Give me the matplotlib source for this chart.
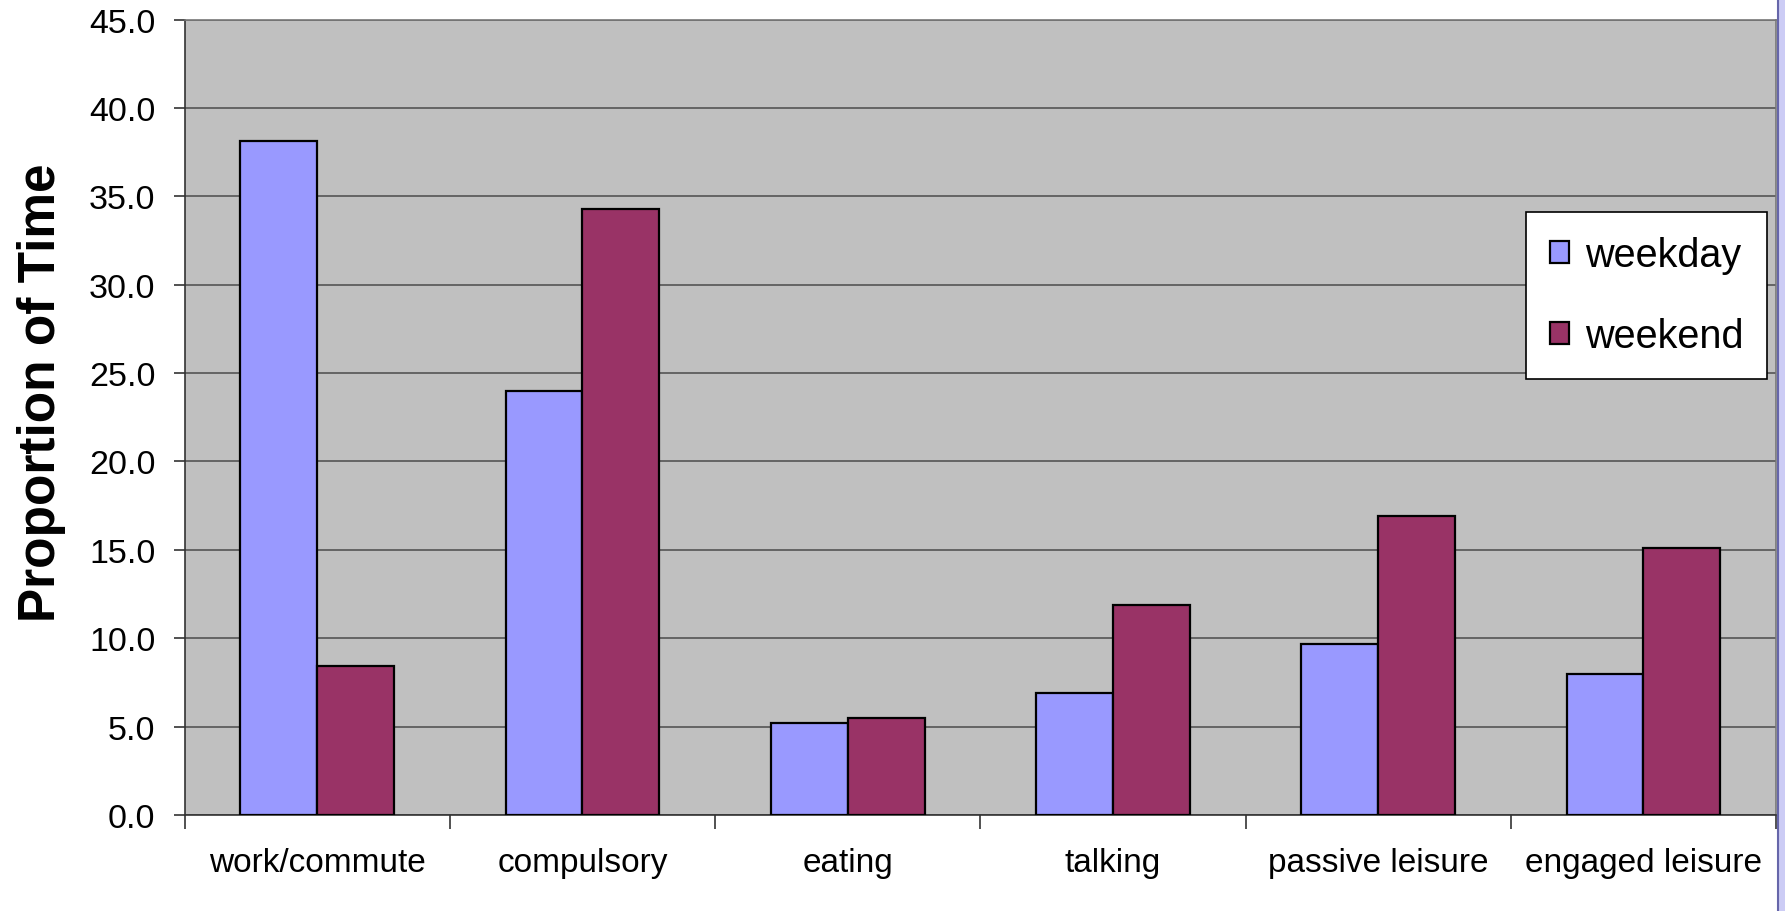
import matplotlib
matplotlib.use("Agg")
import matplotlib.pyplot as plt
import numpy as np
from matplotlib.patches import Rectangle
from matplotlib.lines import Line2D

categories = ["work/commute", "compulsory", "eating", "talking",
              "passive leisure", "engaged leisure"]
weekday = [38.1, 24.0, 5.2, 6.9, 9.7, 8.0]
weekend = [8.4, 34.3, 5.5, 11.9, 16.9, 15.1]
series_names = ["weekday", "weekend"]
y_ticks = [0, 5, 10, 15, 20, 25, 30, 35, 40, 45]

plt.rcParams['font.family'] = ['Liberation Sans', 'DejaVu Sans']

fig = plt.figure(figsize=(17.85, 9.12), dpi=100)
ax = fig.add_axes([0.1034, 0.1053, 0.8916, 0.8722])
ax.set_facecolor('#C0C0C0')

x = np.arange(len(categories))
w = 0.29
ax.bar(x - w/2, weekday, width=w, color='#9999FF', edgecolor='black',
       linewidth=1.6, label=series_names[0], zorder=3)
ax.bar(x + w/2, weekend, width=w, color='#993366', edgecolor='black',
       linewidth=1.6, label=series_names[1], zorder=3)

ax.set_xlim(-0.5, len(categories) - 0.5)
ax.set_ylim(0, 45)
ax.set_yticks(y_ticks)
ax.set_yticklabels([f"{v:.1f}" for v in y_ticks], fontsize=24.5)
ax.yaxis.grid(True, color='#555555', linewidth=1.2, zorder=1)
ax.set_axisbelow(True)

ax.set_xticks(x)
ax.set_xticklabels(categories, fontsize=24)
ax.set_xticks(np.arange(-0.5, len(categories)), minor=True)
ax.tick_params(axis='x', which='major', length=0, pad=23)
ax.tick_params(axis='x', which='minor', length=10, width=1.2, direction='out', color='#333333')
ax.tick_params(axis='y', length=8, width=1.2, pad=13, color='#333333')

for s in ['left', 'bottom']:
    ax.spines[s].set_color('#333333')
    ax.spines[s].set_linewidth(1.2)
for s in ['top', 'right']:
    ax.spines[s].set_color('#777777')
    ax.spines[s].set_linewidth(1.2)

ax.set_ylabel("Proportion of Time", fontsize=37, fontweight='bold')
ax.yaxis.set_label_coords(-0.090, 0.532)
ax.yaxis.label.set_va('center')

leg = ax.legend(loc='upper right', bbox_to_anchor=(0.9943, 0.758), fontsize=28.5,
                frameon=True, fancybox=False, framealpha=1, edgecolor='black',
                handlelength=0.48, handleheight=0.48, handletextpad=0.4,
                labelspacing=1.1, borderpad=0.6, borderaxespad=0)
leg.get_frame().set_linewidth(1.2)

# right border strip of the original image
fig.add_artist(Rectangle((1778/1785, 0), 1 - 1778/1785, 1, transform=fig.transFigure,
                         facecolor='#CCCCF5', edgecolor='none'))
fig.add_artist(Line2D([1778/1785, 1778/1785], [0, 1], transform=fig.transFigure,
                      color='#6666AA', linewidth=1.5))

fig.savefig("out.png", dpi=100)
